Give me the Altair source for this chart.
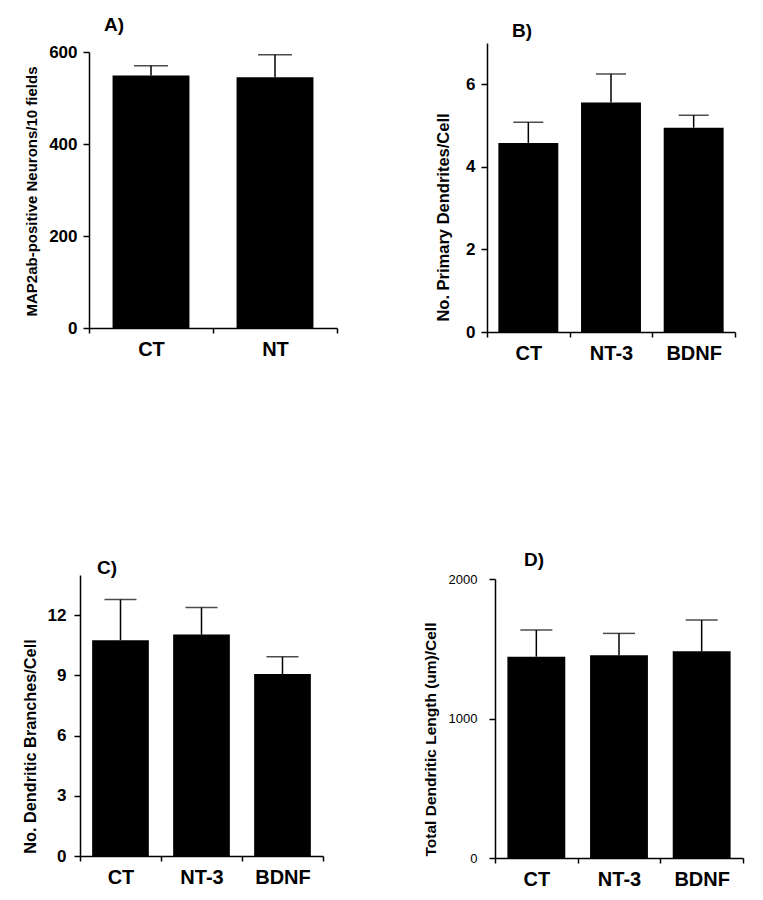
import altair as alt
import pandas as pd

# ---- data ----
cats_a = ["CT", "NT"]
mean_a = [549, 545]
err_a = [21, 49]

cats_bcd = ["CT", "NT-3", "BDNF"]
mean_b = [4.58, 5.56, 4.95]
err_b = [0.50, 0.69, 0.30]

mean_c = [10.75, 11.03, 9.07]
err_c = [2.03, 1.35, 0.86]

mean_d = [1443, 1453, 1482]
err_d = [191, 157, 224]

ytitles = [
    "MAP2ab-positive Neurons/10 fields",
    "No. Primary Dendrites/Cell",
    "No. Dendritic Branches/Cell",
    "Total Dendritic Length (um)/Cell",
]
yticks_a = [0, 200, 400, 600]
yticks_b = [0, 2, 4, 6]
yticks_c = [0, 3, 6, 9, 12]
yticks_d = [0, 1000, 2000]
ydom_a = [0, 600]
ydom_b = [0, 7]
ydom_c = [0, 14]
ydom_d = [0, 2000]
panel_labels = ["A)", "B)", "C)", "D)"]

BOLD = "Liberation Sans, Arial, sans-serif"


def panel(cats, means, errs, ytitle, yticks, ydom, lab, w, h, xr, yr, band, cap,
          tx, ty, lx, ly, yoff, tsize, tweight, lpad, title_size, title_weight):
    df = pd.DataFrame({
        "cat": cats,
        "mean": means,
        "top": [m + e for m, e in zip(means, errs)],
    })
    xaxis = alt.Axis(
        title=None, labelAngle=0, tickBand="extent",
        labelFont=BOLD, labelFontSize=20, labelFontWeight="bold", labelColor="black",
        domainColor="black", domainWidth=1.5, tickColor="black", tickWidth=1.5,
        tickSize=5, labelPadding=6, grid=False,
    )
    xsc = alt.Scale(range=xr, paddingInner=0, paddingOuter=0)
    yaxis = alt.Axis(
        values=yticks, format="d", title=ytitle, titleX=tx, titleY=ty,
        titleAlign="center", titleBaseline="middle", titleFont=BOLD,
        titleFontSize=title_size, titleFontWeight=title_weight, titleColor="black",
        labelFont=BOLD, labelFontSize=tsize, labelFontWeight=tweight,
        labelColor="black", labelPadding=lpad,
        domainColor="black", domainWidth=1.5, tickColor="black", tickWidth=1.5,
        tickSize=6, grid=False, offset=yoff,
    )
    ysc = alt.Scale(domain=ydom, range=yr, nice=False, zero=True)
    base = alt.Chart(df)
    x = alt.X("cat:N", sort=cats, scale=xsc, axis=xaxis)
    bars = base.mark_bar(color="black", width=alt.RelativeBandSize(band)).encode(
        x=x, y=alt.Y("mean:Q", scale=ysc, axis=yaxis)
    )
    rule = base.mark_rule(color="black", strokeWidth=1.5).encode(
        x=x, y=alt.Y("mean:Q", scale=ysc, axis=yaxis), y2="top:Q"
    )
    capm = base.mark_tick(color="black", size=cap, thickness=1.5).encode(
        x=x, y=alt.Y("top:Q", scale=ysc, axis=yaxis)
    )
    txt = alt.Chart(pd.DataFrame({"t": [lab]})).mark_text(
        font=BOLD, fontSize=19, fontWeight="bold", color="black",
        align="center", baseline="middle",
    ).encode(text="t:N", x=alt.value(lx), y=alt.value(ly))
    return alt.layer(bars, rule, capm, txt).properties(width=w, height=h)


pa = panel(cats_a, mean_a, err_a, ytitles[0], yticks_a, ydom_a, panel_labels[0],
           257, 285, [9, 257], [285, 9], 0.62, 34,
           -58, 148, 34, -18, -9, 17, "bold", 6, 15, "bold")
pb = panel(cats_bcd, mean_b, err_b, ytitles[1], yticks_b, ydom_b, panel_labels[1],
           248, 289, [0, 248], [289, 0], 0.725, 30,
           -44, 174, 35, -12, 0, 17, "bold", 6, 16.5, "bold")
pc = panel(cats_bcd, mean_c, err_c, ytitles[2], yticks_c, ydom_c, panel_labels[2],
           243, 281, [0, 243], [281, 0], 0.70, 32,
           -50, 171, 27, -7, 0, 17, "bold", 8, 16.3, "bold")
pd_ = panel(cats_bcd, mean_d, err_d, ytitles[3], yticks_d, ydom_d, panel_labels[3],
            256, 283, [8, 256], [283, 4], 0.70, 32,
            -65, 164, 47, -15, -8, 13, "normal", 12, 15.5, "bold")

chart = alt.concat(pa, pb, pc, pd_, columns=2, spacing={"row": 243, "column": 150},
                   bounds="flush").configure_view(
    stroke=None
).properties(padding={"left": 14, "top": 8, "right": 5, "bottom": 5}, background="white")

chart.save("out.html", embed_options={"renderer": "svg", "actions": False})
